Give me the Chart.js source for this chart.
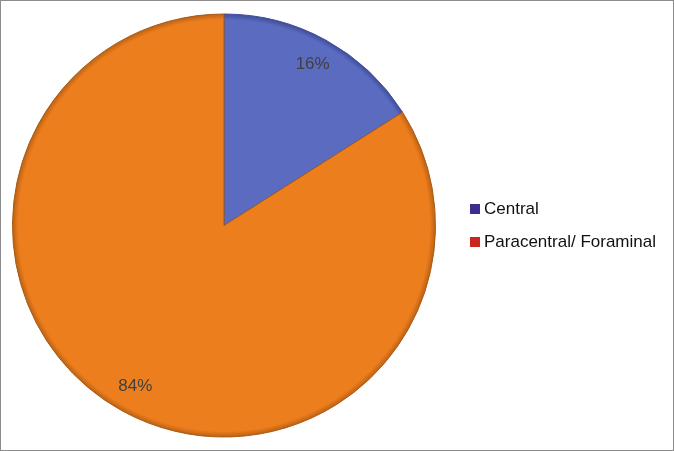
<!DOCTYPE html>
<html><head><meta charset="utf-8">
<script src="https://cdn.jsdelivr.net/npm/chart.js@4/dist/chart.umd.min.js"></script>
<style>
html,body{margin:0;padding:0;background:#fff;}
#wrap{position:absolute;left:0;top:0;width:672px;height:449px;border:1px solid #8c8c8c;}
canvas{display:block;}
</style></head><body>
<div id="wrap"><canvas id="c" width="672" height="449"></canvas></div>
<script>
const categories = ["Central", "Paracentral/ Foraminal"];
const values = [16, 84];
const valueLabels = ["16%", "84%"];
const colors = ["#5a6bc0", "#ed7e1e"];
const edgeColors = ["#3d4a96", "#b85f12"];
const legendColors = ["#3a2f8f", "#c8261e"];

function radialFill(ctx){
  const chart = ctx.chart;
  const a = chart.chartArea;
  const base = colors[ctx.dataIndex];
  if(!a) return base;
  const cx = (a.left + a.right)/2, cy = (a.top + a.bottom)/2;
  const r = Math.min(a.right-a.left, a.bottom-a.top)/2;
  if(!isFinite(cx) || !isFinite(cy) || !(r > 0)) return base;
  const g = chart.ctx.createRadialGradient(cx, cy, 0, cx, cy, r);
  g.addColorStop(0, base);
  g.addColorStop(0.97, base);
  g.addColorStop(1, edgeColors[ctx.dataIndex]);
  return g;
}

const labelPlugin = {
  id: 'sliceLabels',
  afterDatasetsDraw(chart){
    const ctx = chart.ctx;
    const meta = chart.getDatasetMeta(0);
    ctx.save();
    ctx.font = '17px "Liberation Sans", Arial, sans-serif';
    ctx.fillStyle = '#404040';
    ctx.textAlign = 'center';
    ctx.textBaseline = 'middle';
    meta.data.forEach((arc, i) => {
      const mid = (arc.startAngle + arc.endAngle)/2;
      const rr = arc.outerRadius * 0.87;
      ctx.fillText(valueLabels[i], arc.x + Math.cos(mid)*rr, arc.y + Math.sin(mid)*rr);
    });
    ctx.restore();
  }
};

const legendPlugin = {
  id: 'sideLegend',
  afterDraw(chart){
    const ctx = chart.ctx;
    const x0 = 469, y0 = 208, step = 33;
    ctx.save();
    ctx.font = '17px "Liberation Sans", Arial, sans-serif';
    ctx.textBaseline = 'middle';
    categories.forEach((name, i) => {
      const y = y0 + i*step;
      ctx.fillStyle = legendColors[i];
      ctx.fillRect(x0, y-5, 10, 10);
      ctx.fillStyle = '#111';
      ctx.fillText(name, x0 + 14, y);
    });
    ctx.restore();
  }
};

new Chart(document.getElementById('c'), {
  type: 'pie',
  data: {
    labels: categories,
    datasets: [{
      data: values,
      backgroundColor: radialFill,
      borderColor: ['#3f4c98', '#a85a18'],
      borderWidth: 1
    }]
  },
  options: {
    responsive: false,
    animation: false,
    layout: { padding: { left: 11, top: 12, right: 237, bottom: 12 } },
    plugins: { legend: { display: false }, tooltip: { enabled: false } }
  },
  plugins: [labelPlugin, legendPlugin]
});
</script>
</body></html>
